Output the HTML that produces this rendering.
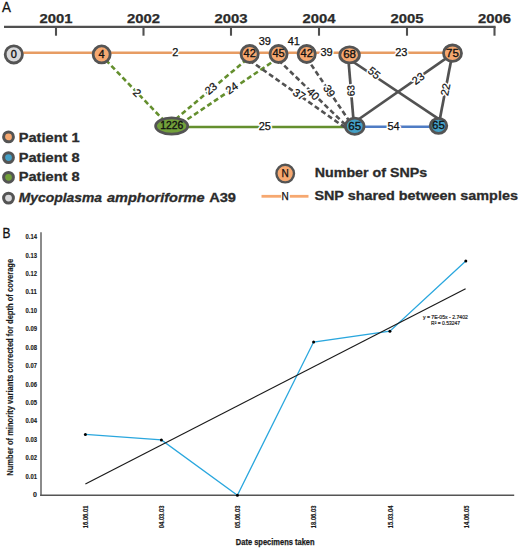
<!DOCTYPE html><html><head><meta charset="utf-8"><style>html,body{margin:0;padding:0;background:#fff;width:520px;height:548px;overflow:hidden}svg{display:block}text{font-family:"Liberation Sans",sans-serif}</style></head><body>
<svg width="520" height="548" viewBox="0 0 520 548">
<rect width="520" height="548" fill="#fff"/>
<text x="2.1" y="11.5" font-size="14.2" fill="#111" stroke="#111" stroke-width="0.3" textLength="8.9" lengthAdjust="spacingAndGlyphs">A</text>
<line x1="4" y1="26.8" x2="495.6" y2="26.8" stroke="#505050" stroke-width="2.2"/>
<line x1="56" y1="26.8" x2="56" y2="35.7" stroke="#505050" stroke-width="2.1"/>
<text x="56" y="22.7" text-anchor="middle" font-size="12.2" font-weight="bold" fill="#2b2b2b" stroke="#2b2b2b" stroke-width="0.25" textLength="33" lengthAdjust="spacingAndGlyphs">2001</text>
<line x1="143.5" y1="26.8" x2="143.5" y2="35.7" stroke="#505050" stroke-width="2.1"/>
<text x="143.5" y="22.7" text-anchor="middle" font-size="12.2" font-weight="bold" fill="#2b2b2b" stroke="#2b2b2b" stroke-width="0.25" textLength="33" lengthAdjust="spacingAndGlyphs">2002</text>
<line x1="231" y1="26.8" x2="231" y2="35.7" stroke="#505050" stroke-width="2.1"/>
<text x="231" y="22.7" text-anchor="middle" font-size="12.2" font-weight="bold" fill="#2b2b2b" stroke="#2b2b2b" stroke-width="0.25" textLength="33" lengthAdjust="spacingAndGlyphs">2003</text>
<line x1="319" y1="26.8" x2="319" y2="35.7" stroke="#505050" stroke-width="2.1"/>
<text x="319" y="22.7" text-anchor="middle" font-size="12.2" font-weight="bold" fill="#2b2b2b" stroke="#2b2b2b" stroke-width="0.25" textLength="33" lengthAdjust="spacingAndGlyphs">2004</text>
<line x1="407" y1="26.8" x2="407" y2="35.7" stroke="#505050" stroke-width="2.1"/>
<text x="407" y="22.7" text-anchor="middle" font-size="12.2" font-weight="bold" fill="#2b2b2b" stroke="#2b2b2b" stroke-width="0.25" textLength="33" lengthAdjust="spacingAndGlyphs">2005</text>
<line x1="494.5" y1="26.8" x2="494.5" y2="35.7" stroke="#505050" stroke-width="2.1"/>
<text x="494.5" y="22.7" text-anchor="middle" font-size="12.2" font-weight="bold" fill="#2b2b2b" stroke="#2b2b2b" stroke-width="0.25" textLength="33" lengthAdjust="spacingAndGlyphs">2006</text>
<line x1="14" y1="52.8" x2="452" y2="52.8" stroke="#e79c63" stroke-width="2.6"/>
<line x1="100.3" y1="54.3" x2="169.2" y2="126" stroke="#648f2e" stroke-width="2.6" stroke-dasharray="5 3"/>
<line x1="253" y1="54.2" x2="167" y2="126.4" stroke="#648f2e" stroke-width="2.6" stroke-dasharray="5 3"/>
<line x1="284.4" y1="53.8" x2="177.5" y2="126" stroke="#648f2e" stroke-width="2.6" stroke-dasharray="5 3"/>
<line x1="171.7" y1="127" x2="354.8" y2="127" stroke="#648f2e" stroke-width="2.4"/>
<line x1="354.8" y1="126.8" x2="438.5" y2="126.8" stroke="#4f7cc4" stroke-width="2.5"/>
<line x1="249.4" y1="60.20" x2="348" y2="129.61" stroke="#525252" stroke-width="2.6" stroke-dasharray="5 3"/>
<line x1="278.5" y1="60.10" x2="348" y2="127.31" stroke="#525252" stroke-width="2.6" stroke-dasharray="5 3"/>
<line x1="306.7" y1="58.00" x2="352.7" y2="126.08" stroke="#525252" stroke-width="2.6" stroke-dasharray="5 3"/>
<line x1="348.0" y1="54.9" x2="354.0" y2="126.2" stroke="#525252" stroke-width="2.7"/>
<line x1="349.6" y1="59.5" x2="438.55" y2="118.8" stroke="#525252" stroke-width="2.7"/>
<line x1="452.5" y1="53.8" x2="354.75" y2="122" stroke="#525252" stroke-width="2.7"/>
<line x1="452.5" y1="53.2" x2="438.5" y2="125.9" stroke="#525252" stroke-width="2.7"/>
<text transform="translate(175.3 52.4)" x="0" y="3.94" text-anchor="middle" font-size="11" fill="#fff" stroke="#fff" stroke-width="3.2" stroke-linejoin="round">2</text>
<text transform="translate(175.3 52.4)" x="0" y="3.94" text-anchor="middle" font-size="11" fill="#111" stroke="#111" stroke-width="0.25">2</text>
<text transform="translate(326.6 52.2)" x="0" y="3.94" text-anchor="middle" font-size="11" fill="#fff" stroke="#fff" stroke-width="3.2" stroke-linejoin="round">39</text>
<text transform="translate(326.6 52.2)" x="0" y="3.94" text-anchor="middle" font-size="11" fill="#111" stroke="#111" stroke-width="0.25">39</text>
<text transform="translate(401.3 52.1)" x="0" y="3.94" text-anchor="middle" font-size="11" fill="#fff" stroke="#fff" stroke-width="3.2" stroke-linejoin="round">23</text>
<text transform="translate(401.3 52.1)" x="0" y="3.94" text-anchor="middle" font-size="11" fill="#111" stroke="#111" stroke-width="0.25">23</text>
<text transform="translate(137.3 92.7) rotate(45.6)" x="0" y="3.94" text-anchor="middle" font-size="11" fill="#fff" stroke="#fff" stroke-width="3.2" stroke-linejoin="round">2</text>
<text transform="translate(137.3 92.7) rotate(45.6)" x="0" y="3.94" text-anchor="middle" font-size="11" fill="#111" stroke="#111" stroke-width="0.25">2</text>
<text transform="translate(210.8 88.4) rotate(-40)" x="0" y="3.94" text-anchor="middle" font-size="11" fill="#fff" stroke="#fff" stroke-width="3.2" stroke-linejoin="round">23</text>
<text transform="translate(210.8 88.4) rotate(-40)" x="0" y="3.94" text-anchor="middle" font-size="11" fill="#111" stroke="#111" stroke-width="0.25">23</text>
<text transform="translate(231.7 87.9) rotate(-35.3)" x="0" y="3.94" text-anchor="middle" font-size="11" fill="#fff" stroke="#fff" stroke-width="3.2" stroke-linejoin="round">24</text>
<text transform="translate(231.7 87.9) rotate(-35.3)" x="0" y="3.94" text-anchor="middle" font-size="11" fill="#111" stroke="#111" stroke-width="0.25">24</text>
<text transform="translate(299.2 94.3) rotate(34)" x="0" y="3.94" text-anchor="middle" font-size="11" fill="#fff" stroke="#fff" stroke-width="3.2" stroke-linejoin="round">37</text>
<text transform="translate(299.2 94.3) rotate(34)" x="0" y="3.94" text-anchor="middle" font-size="11" fill="#111" stroke="#111" stroke-width="0.25">37</text>
<text transform="translate(313.3 94.0) rotate(44)" x="0" y="3.94" text-anchor="middle" font-size="11" fill="#fff" stroke="#fff" stroke-width="3.2" stroke-linejoin="round">40</text>
<text transform="translate(313.3 94.0) rotate(44)" x="0" y="3.94" text-anchor="middle" font-size="11" fill="#111" stroke="#111" stroke-width="0.25">40</text>
<text transform="translate(329.4 90.9) rotate(57)" x="0" y="3.94" text-anchor="middle" font-size="11" fill="#fff" stroke="#fff" stroke-width="3.2" stroke-linejoin="round">39</text>
<text transform="translate(329.4 90.9) rotate(57)" x="0" y="3.94" text-anchor="middle" font-size="11" fill="#111" stroke="#111" stroke-width="0.25">39</text>
<text transform="translate(374.2 72.8) rotate(38.6)" x="0" y="3.94" text-anchor="middle" font-size="11" fill="#fff" stroke="#fff" stroke-width="3.2" stroke-linejoin="round">55</text>
<text transform="translate(374.2 72.8) rotate(38.6)" x="0" y="3.94" text-anchor="middle" font-size="11" fill="#111" stroke="#111" stroke-width="0.25">55</text>
<text transform="translate(418.1 78.4) rotate(-36.8)" x="0" y="3.94" text-anchor="middle" font-size="11" fill="#fff" stroke="#fff" stroke-width="3.2" stroke-linejoin="round">23</text>
<text transform="translate(418.1 78.4) rotate(-36.8)" x="0" y="3.94" text-anchor="middle" font-size="11" fill="#111" stroke="#111" stroke-width="0.25">23</text>
<text transform="translate(445.4 89.6) rotate(-79)" x="0" y="3.94" text-anchor="middle" font-size="11" fill="#fff" stroke="#fff" stroke-width="3.2" stroke-linejoin="round">22</text>
<text transform="translate(445.4 89.6) rotate(-79)" x="0" y="3.94" text-anchor="middle" font-size="11" fill="#111" stroke="#111" stroke-width="0.25">22</text>
<text transform="translate(264.8 126.5)" x="0" y="3.94" text-anchor="middle" font-size="11" fill="#fff" stroke="#fff" stroke-width="3.2" stroke-linejoin="round">25</text>
<text transform="translate(264.8 126.5)" x="0" y="3.94" text-anchor="middle" font-size="11" fill="#111" stroke="#111" stroke-width="0.25">25</text>
<text transform="translate(393.5 126)" x="0" y="3.94" text-anchor="middle" font-size="11" fill="#fff" stroke="#fff" stroke-width="3.2" stroke-linejoin="round">54</text>
<text transform="translate(393.5 126)" x="0" y="3.94" text-anchor="middle" font-size="11" fill="#111" stroke="#111" stroke-width="0.25">54</text>
<text transform="translate(350.8 90.7) rotate(-94)" x="0" y="3.65" text-anchor="middle" font-size="10.2" fill="#fff" stroke="#fff" stroke-width="3.2" stroke-linejoin="round">63</text>
<text transform="translate(350.8 90.7) rotate(-94)" x="0" y="3.65" text-anchor="middle" font-size="10.2" fill="#111" stroke="#111" stroke-width="0.25">63</text>
<text transform="translate(264.8 40.9)" x="0" y="3.94" text-anchor="middle" font-size="11" fill="#111" stroke="#111" stroke-width="0.25">39</text>
<text transform="translate(293.8 40.9)" x="0" y="3.94" text-anchor="middle" font-size="11" fill="#111" stroke="#111" stroke-width="0.25">41</text>
<ellipse cx="13.8" cy="54.4" rx="8.6" ry="8.6" fill="#d9d9db" stroke="#545454" stroke-width="2.8"/>
<text transform="translate(13.8 53.699999999999996)" x="0" y="3.94" text-anchor="middle" font-size="11" fill="#111" stroke="#111" stroke-width="0.35">0</text>
<ellipse cx="101.65" cy="54.4" rx="8.5" ry="8.5" fill="#f6a870" stroke="#545454" stroke-width="2.8"/>
<text transform="translate(101.65 53.699999999999996)" x="0" y="3.94" text-anchor="middle" font-size="11" fill="#111" stroke="#111" stroke-width="0.35">4</text>
<ellipse cx="249.65" cy="54.0" rx="8.6" ry="8.5" fill="#f6a870" stroke="#545454" stroke-width="2.8"/>
<text transform="translate(249.65 53.3)" x="0" y="3.94" text-anchor="middle" font-size="11" fill="#111" stroke="#111" stroke-width="0.35">42</text>
<ellipse cx="278.55" cy="54.0" rx="8.55" ry="8.5" fill="#f6a870" stroke="#545454" stroke-width="2.8"/>
<text transform="translate(278.55 53.3)" x="0" y="3.94" text-anchor="middle" font-size="11" fill="#111" stroke="#111" stroke-width="0.35">45</text>
<ellipse cx="306.7" cy="54.0" rx="8.6" ry="8.5" fill="#f6a870" stroke="#545454" stroke-width="2.8"/>
<text transform="translate(306.7 53.3)" x="0" y="3.94" text-anchor="middle" font-size="11" fill="#111" stroke="#111" stroke-width="0.35">42</text>
<ellipse cx="349.6" cy="54.9" rx="9.8" ry="8.0" fill="#f6a870" stroke="#545454" stroke-width="2.8"/>
<text transform="translate(349.6 54.199999999999996)" x="0" y="4.12" text-anchor="middle" font-size="11.5" fill="#111" stroke="#111" stroke-width="0.35">68</text>
<ellipse cx="452.5" cy="53.2" rx="9.0" ry="8.2" fill="#f6a870" stroke="#545454" stroke-width="2.8"/>
<text transform="translate(452.5 52.5)" x="0" y="4.12" text-anchor="middle" font-size="11.5" fill="#111" stroke="#111" stroke-width="0.35">75</text>
<ellipse cx="171.65" cy="126.05" rx="16.05" ry="8.15" fill="#72a03a" stroke="#545454" stroke-width="2.8"/>
<text transform="translate(171.65 125.35)" x="0" y="3.79" text-anchor="middle" font-size="10.6" fill="#111" stroke="#111" stroke-width="0.35" textLength="23.0" lengthAdjust="spacingAndGlyphs">1226</text>
<ellipse cx="354.75" cy="126.25" rx="9.25" ry="8.05" fill="#44a0c6" stroke="#545454" stroke-width="2.8"/>
<text transform="translate(354.75 125.55)" x="0" y="4.12" text-anchor="middle" font-size="11.5" fill="#111" stroke="#111" stroke-width="0.35">65</text>
<ellipse cx="438.5" cy="125.8" rx="8.3" ry="7.5" fill="#44a0c6" stroke="#545454" stroke-width="2.8"/>
<text transform="translate(438.5 125.1)" x="0" y="4.12" text-anchor="middle" font-size="11.5" fill="#111" stroke="#111" stroke-width="0.35">65</text>
<circle cx="8.5" cy="136.9" r="4.9" fill="#f6a870" stroke="#545454" stroke-width="3"/>
<text x="18.7" y="141.7" font-size="12.8" font-weight="bold" fill="#2b2b2b" stroke="#2b2b2b" stroke-width="0.3" textLength="61" lengthAdjust="spacingAndGlyphs">Patient 1</text>
<circle cx="8.5" cy="157.6" r="4.9" fill="#44a0c6" stroke="#545454" stroke-width="3"/>
<text x="18.7" y="161.5" font-size="12.8" font-weight="bold" fill="#2b2b2b" stroke="#2b2b2b" stroke-width="0.3" textLength="61" lengthAdjust="spacingAndGlyphs">Patient 8</text>
<circle cx="8.5" cy="177.3" r="4.9" fill="#72a03a" stroke="#545454" stroke-width="3"/>
<text x="18.7" y="180.9" font-size="12.8" font-weight="bold" fill="#2b2b2b" stroke="#2b2b2b" stroke-width="0.3" textLength="61" lengthAdjust="spacingAndGlyphs">Patient 8</text>
<circle cx="8.5" cy="198.1" r="4.9" fill="#d9d9db" stroke="#545454" stroke-width="3"/>
<text x="18.75" y="201.9" font-size="12.8" font-weight="bold" font-style="italic" fill="#2b2b2b" stroke="#2b2b2b" stroke-width="0.3" textLength="83.3" lengthAdjust="spacingAndGlyphs">Mycoplasma</text>
<text x="107" y="201.9" font-size="12.8" font-weight="bold" font-style="italic" fill="#2b2b2b" stroke="#2b2b2b" stroke-width="0.3" textLength="97.6" lengthAdjust="spacingAndGlyphs">amphoriforme</text>
<text x="209.2" y="201.9" font-size="12.8" font-weight="bold" fill="#2b2b2b" stroke="#2b2b2b" stroke-width="0.3" textLength="26.8" lengthAdjust="spacingAndGlyphs">A39</text>
<circle cx="285.2" cy="173.6" r="8.8" fill="#f6a870" stroke="#545454" stroke-width="2.4"/>
<text transform="translate(285.1 173.6)" x="0" y="3.58" text-anchor="middle" font-size="10" fill="#111" stroke="#111" stroke-width="0.25">N</text>
<line x1="261.5" y1="196.3" x2="281.2" y2="196.3" stroke="#f6a870" stroke-width="2.8"/>
<line x1="289.8" y1="196.3" x2="308.5" y2="196.3" stroke="#f6a870" stroke-width="2.8"/>
<text transform="translate(285.1 196.1)" x="0" y="3.58" text-anchor="middle" font-size="10" fill="#111" stroke="#111" stroke-width="0.25">N</text>
<text x="314.8" y="177.1" font-size="12.8" font-weight="bold" fill="#2b2b2b" stroke="#2b2b2b" stroke-width="0.3" textLength="112.3" lengthAdjust="spacingAndGlyphs">Number of SNPs</text>
<text x="314.4" y="200.2" font-size="12.8" font-weight="bold" fill="#2b2b2b" stroke="#2b2b2b" stroke-width="0.3" textLength="203.5" lengthAdjust="spacingAndGlyphs">SNP shared between samples</text>
<text x="2.6" y="237.6" font-size="14" fill="#111" stroke="#111" stroke-width="0.3" textLength="8.0" lengthAdjust="spacingAndGlyphs">B</text>
<line x1="41" y1="232.3" x2="41" y2="495.9" stroke="#6e6e6e" stroke-width="1.6"/>
<line x1="40.2" y1="495.3" x2="514.2" y2="495.3" stroke="#555" stroke-width="1.5"/>
<text x="36.9" y="497.10" text-anchor="end" font-size="7" font-weight="bold" fill="#1a1a1a" stroke="#1a1a1a" stroke-width="0.15">0</text>
<text x="36.9" y="478.68" text-anchor="end" font-size="7" font-weight="bold" fill="#1a1a1a" stroke="#1a1a1a" stroke-width="0.15" textLength="11.4" lengthAdjust="spacingAndGlyphs">0.01</text>
<text x="36.9" y="460.26" text-anchor="end" font-size="7" font-weight="bold" fill="#1a1a1a" stroke="#1a1a1a" stroke-width="0.15" textLength="11.4" lengthAdjust="spacingAndGlyphs">0.02</text>
<text x="36.9" y="441.84" text-anchor="end" font-size="7" font-weight="bold" fill="#1a1a1a" stroke="#1a1a1a" stroke-width="0.15" textLength="11.4" lengthAdjust="spacingAndGlyphs">0.03</text>
<text x="36.9" y="423.42" text-anchor="end" font-size="7" font-weight="bold" fill="#1a1a1a" stroke="#1a1a1a" stroke-width="0.15" textLength="11.4" lengthAdjust="spacingAndGlyphs">0.04</text>
<text x="36.9" y="405.00" text-anchor="end" font-size="7" font-weight="bold" fill="#1a1a1a" stroke="#1a1a1a" stroke-width="0.15" textLength="11.4" lengthAdjust="spacingAndGlyphs">0.05</text>
<text x="36.9" y="386.58" text-anchor="end" font-size="7" font-weight="bold" fill="#1a1a1a" stroke="#1a1a1a" stroke-width="0.15" textLength="11.4" lengthAdjust="spacingAndGlyphs">0.06</text>
<text x="36.9" y="368.16" text-anchor="end" font-size="7" font-weight="bold" fill="#1a1a1a" stroke="#1a1a1a" stroke-width="0.15" textLength="11.4" lengthAdjust="spacingAndGlyphs">0.07</text>
<text x="36.9" y="349.74" text-anchor="end" font-size="7" font-weight="bold" fill="#1a1a1a" stroke="#1a1a1a" stroke-width="0.15" textLength="11.4" lengthAdjust="spacingAndGlyphs">0.08</text>
<text x="36.9" y="331.32" text-anchor="end" font-size="7" font-weight="bold" fill="#1a1a1a" stroke="#1a1a1a" stroke-width="0.15" textLength="11.4" lengthAdjust="spacingAndGlyphs">0.09</text>
<text x="36.9" y="312.90" text-anchor="end" font-size="7" font-weight="bold" fill="#1a1a1a" stroke="#1a1a1a" stroke-width="0.15" textLength="11.4" lengthAdjust="spacingAndGlyphs">0.10</text>
<text x="36.9" y="294.48" text-anchor="end" font-size="7" font-weight="bold" fill="#1a1a1a" stroke="#1a1a1a" stroke-width="0.15" textLength="11.4" lengthAdjust="spacingAndGlyphs">0.11</text>
<text x="36.9" y="276.06" text-anchor="end" font-size="7" font-weight="bold" fill="#1a1a1a" stroke="#1a1a1a" stroke-width="0.15" textLength="11.4" lengthAdjust="spacingAndGlyphs">0.12</text>
<text x="36.9" y="257.64" text-anchor="end" font-size="7" font-weight="bold" fill="#1a1a1a" stroke="#1a1a1a" stroke-width="0.15" textLength="11.4" lengthAdjust="spacingAndGlyphs">0.13</text>
<text x="36.9" y="239.22" text-anchor="end" font-size="7" font-weight="bold" fill="#1a1a1a" stroke="#1a1a1a" stroke-width="0.15" textLength="11.4" lengthAdjust="spacingAndGlyphs">0.14</text>
<text transform="translate(12.9 367.3) rotate(-90)" x="0" y="0" text-anchor="middle" font-size="8.6" font-weight="bold" fill="#1a1a1a" stroke="#1a1a1a" stroke-width="0.15" textLength="217" lengthAdjust="spacingAndGlyphs">Number of minority variants corrected for depth of coverage</text>
<text transform="translate(88.15 516.9) rotate(-90)" x="0" y="0" text-anchor="middle" font-size="7" font-weight="bold" fill="#1a1a1a" stroke="#1a1a1a" stroke-width="0.15" textLength="22.5" lengthAdjust="spacingAndGlyphs">16.06.01</text>
<text transform="translate(164.25 516.9) rotate(-90)" x="0" y="0" text-anchor="middle" font-size="7" font-weight="bold" fill="#1a1a1a" stroke="#1a1a1a" stroke-width="0.15" textLength="22.5" lengthAdjust="spacingAndGlyphs">04.03.03</text>
<text transform="translate(240.35 516.9) rotate(-90)" x="0" y="0" text-anchor="middle" font-size="7" font-weight="bold" fill="#1a1a1a" stroke="#1a1a1a" stroke-width="0.15" textLength="22.5" lengthAdjust="spacingAndGlyphs">05.06.03</text>
<text transform="translate(316.45 516.9) rotate(-90)" x="0" y="0" text-anchor="middle" font-size="7" font-weight="bold" fill="#1a1a1a" stroke="#1a1a1a" stroke-width="0.15" textLength="22.5" lengthAdjust="spacingAndGlyphs">18.06.03</text>
<text transform="translate(392.55 516.9) rotate(-90)" x="0" y="0" text-anchor="middle" font-size="7" font-weight="bold" fill="#1a1a1a" stroke="#1a1a1a" stroke-width="0.15" textLength="22.5" lengthAdjust="spacingAndGlyphs">15.03.04</text>
<text transform="translate(468.65 516.9) rotate(-90)" x="0" y="0" text-anchor="middle" font-size="7" font-weight="bold" fill="#1a1a1a" stroke="#1a1a1a" stroke-width="0.15" textLength="22.5" lengthAdjust="spacingAndGlyphs">14.06.05</text>
<text x="235.8" y="545.2" font-size="8.4" font-weight="bold" fill="#1a1a1a" stroke="#1a1a1a" stroke-width="0.25" textLength="78.8" lengthAdjust="spacingAndGlyphs">Date specimens taken</text>
<polyline points="85.4,434.4 161.4,439.9 237.4,495.2 313.6,342 389.9,331.2 465.8,261" fill="none" stroke="#2aa7de" stroke-width="1.3"/>
<line x1="85.4" y1="484" x2="465.6" y2="288.8" stroke="#1a1a1a" stroke-width="1.2"/>
<circle cx="85.4" cy="434.4" r="1.5" fill="#000"/>
<circle cx="161.4" cy="439.9" r="1.5" fill="#000"/>
<circle cx="237.4" cy="495.2" r="1.5" fill="#000"/>
<circle cx="313.6" cy="342" r="1.5" fill="#000"/>
<circle cx="389.9" cy="331.2" r="1.5" fill="#000"/>
<circle cx="465.8" cy="261" r="1.5" fill="#000"/>
<text x="422.9" y="319.4" font-size="6" fill="#1a1a1a" stroke="#1a1a1a" stroke-width="0.2" textLength="45" lengthAdjust="spacingAndGlyphs">y = 7E-05x - 2.7402</text>
<text x="431.1" y="324.6" font-size="6" fill="#1a1a1a" stroke="#1a1a1a" stroke-width="0.2" textLength="28.9" lengthAdjust="spacingAndGlyphs">R² = 0.53247</text>
</svg></body></html>
